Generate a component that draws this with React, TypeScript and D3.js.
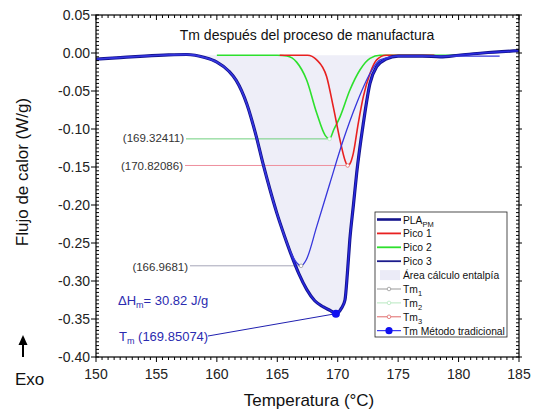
import React from 'react';
import * as d3 from 'd3';

// curves: [temperature °C, heat flow W/g]
const plaPM: [number, number][] = [
  [150, -0.008], [152, -0.006], [154, -0.004], [156, -0.0025], [157.5, -0.002],
  [159, -0.006], [160, -0.012], [161, -0.024], [161.6, -0.036], [162.5, -0.068],
  [163.2, -0.106], [163.84, -0.147], [164.4, -0.18], [164.95, -0.21], [165.6, -0.241],
  [166.19, -0.267], [166.8, -0.291], [167.43, -0.311], [168.1, -0.326], [168.81, -0.334],
  [169.4, -0.339], [169.85, -0.343], [170.3, -0.336], [170.6, -0.325], [170.8, -0.29],
  [171.0, -0.246], [171.3, -0.2], [171.57, -0.158], [172.12, -0.0925], [172.67, -0.04],
  [173.22, -0.018], [174, -0.008], [175, -0.004], [177, -0.004], [178.5, -0.005],
  [180, -0.003], [182, 0.0], [185, 0.003],
];
const pico1: [number, number][] = [
  [165.2, -0.003], [167.5, -0.003], [168.26, -0.009], [169.08, -0.031], [169.63, -0.0706],
  [170.19, -0.1145], [170.6, -0.141], [170.82, -0.148], [171.0, -0.146], [171.29, -0.132],
  [171.7, -0.0925], [172.12, -0.0575], [172.67, -0.027], [173.22, -0.009], [174, -0.003],
  [178, -0.003],
];
const pico2: [number, number][] = [
  [160, -0.003], [165, -0.003], [165.8, -0.004], [166.6, -0.012], [167.43, -0.0355],
  [168.26, -0.079], [168.95, -0.108], [169.32, -0.113], [169.7, -0.1], [170.19, -0.084],
  [171.0, -0.049], [171.85, -0.022], [172.67, -0.007], [173.5, -0.003], [180, -0.003],
];
const pico3: [number, number][] = [
  [150, -0.008], [152, -0.006], [154, -0.004], [156, -0.0025], [157.5, -0.002],
  [159, -0.006], [160, -0.012], [161, -0.024], [161.6, -0.036], [162.5, -0.068],
  [163.2, -0.106], [163.84, -0.147], [164.4, -0.18], [164.95, -0.21], [165.6, -0.241],
  [166.19, -0.265], [166.6, -0.276], [166.97, -0.28], [167.4, -0.272], [168.26, -0.2285],
  [169.36, -0.171], [170.46, -0.1145], [171.57, -0.066], [172.67, -0.027], [173.5, -0.009],
  [175, -0.004], [183.4, -0.004],
];
const peakTm1: [number, number] = [169.32411, -0.113];
const peakTm3: [number, number] = [170.82086, -0.148];
const peakPico3: [number, number] = [166.9681, -0.28];
const peakTrad: [number, number] = [169.85074, -0.343];
const areaRange = [156, 175.5];

const xTicks = [150, 155, 160, 165, 170, 175, 180, 185];
const yTicks = [0.05, 0, -0.05, -0.1, -0.15, -0.2, -0.25, -0.3, -0.35, -0.4];

const legendItems = [
  {name: 'PLA', sub: 'PM', kind: 'thick', color: '#14148c'},
  {name: 'Pico 1', sub: '', kind: 'line', color: '#e82020'},
  {name: 'Pico 2', sub: '', kind: 'line', color: '#2de02d'},
  {name: 'Pico 3', sub: '', kind: 'line', color: '#1c1c8c'},
  {name: 'Área cálculo entalpía', sub: '', kind: 'area', color: '#ebebf7'},
  {name: 'Tm', sub: '1', kind: 'marker', color: '#999999'},
  {name: 'Tm', sub: '2', kind: 'marker', color: '#b8e8c0'},
  {name: 'Tm', sub: '3', kind: 'marker', color: '#e06a6a'},
  {name: 'Tm Método tradicional', sub: '', kind: 'dot', color: '#1010f0'},
];

const font = '"Liberation Sans", Arial, sans-serif';

export default function App() {
  const left = 96, right = 519, top = 15, bottom = 357;
  const x = d3.scaleLinear().domain([150, 185]).range([left, right]);
  const y = d3.scaleLinear().domain([-0.4, 0.05]).range([bottom, top]);
  const line = d3
    .line<[number, number]>()
    .x((d) => x(d[0]))
    .y((d) => y(d[1]))
    .curve(d3.curveMonotoneX);

  // enthalpy area: between the curve and a straight baseline
  const inRange = plaPM.filter((d) => d[0] >= areaRange[0] && d[0] <= areaRange[1]);
  const area = d3
    .area<[number, number]>()
    .x((d) => x(d[0]))
    .y0(() => y(-0.003))
    .y1((d) => y(d[1]))
    .curve(d3.curveMonotoneX);

  const minorX = x.ticks(70);
  const minorY = y.ticks(90);

  const lg = {x0: 375, y0: 212, w: 132, h: 125, row: 13.9};

  return (
    <svg
      width={536}
      height={413}
      style={{position: 'absolute', left: 0, top: 0, background: '#fff'}}
      fontFamily={font}
    >
      <defs>
        <clipPath id="plot">
          <rect x={left} y={top} width={right - left} height={bottom - top} />
        </clipPath>
      </defs>

      <g clipPath="url(#plot)">
        <path d={area(inRange) || ''} fill="#eeeef8" />
        {/* leader lines */}
        <line x1={186} y1={y(peakTm1[1])} x2={x(peakTm1[0])} y2={y(peakTm1[1])} stroke="#6fcf7e" strokeWidth={1} />
        <line x1={185} y1={y(peakTm3[1])} x2={x(peakTm3[0])} y2={y(peakTm3[1])} stroke="#ee8f9e" strokeWidth={1} />
        <line x1={190} y1={y(peakPico3[1])} x2={x(peakPico3[0])} y2={y(peakPico3[1])} stroke="#a6a6b8" strokeWidth={1} />
        <line x1={208} y1={336} x2={x(peakTrad[0])} y2={y(peakTrad[1])} stroke="#2020b0" strokeWidth={1} />

        <path d={line(pico2) || ''} fill="none" stroke="#2de02d" strokeWidth={1.6} />
        <path d={line(pico1) || ''} fill="none" stroke="#e82020" strokeWidth={1.6} />
        <path d={line(plaPM) || ''} fill="none" stroke="#14148c" strokeWidth={3.2} />
        <path d={line(plaPM) || ''} fill="none" stroke="#2828e0" strokeWidth={1.4} />
        <path d={line(pico3) || ''} fill="none" stroke="#3636dc" strokeWidth={1.3} />

        <circle cx={x(peakTm1[0])} cy={y(peakTm1[1])} r={1.8} fill="#fff" stroke="#b8e8c0" strokeWidth={0.8} />
        <circle cx={x(peakTm3[0])} cy={y(peakTm3[1])} r={1.8} fill="#fff" stroke="#e06a6a" strokeWidth={0.8} />
        <circle cx={x(peakPico3[0])} cy={y(peakPico3[1])} r={1.8} fill="#fff" stroke="#999" strokeWidth={0.8} />
        <circle cx={x(peakTrad[0])} cy={y(peakTrad[1])} r={4} fill="#1010f0" />
      </g>

      {/* frame */}
      <rect x={left} y={top} width={right - left} height={bottom - top} fill="none" stroke="#000" strokeWidth={1.2} />

      {/* x ticks */}
      {minorX.map((t) => {
        const major = xTicks.includes(t);
        return (
          <g key={'x' + t}>
            <line x1={x(t)} x2={x(t)} y1={bottom} y2={bottom + (major ? 5 : 3)} stroke="#000" />
            <line x1={x(t)} x2={x(t)} y1={top} y2={top + (major ? 5 : 3)} stroke="#000" />
          </g>
        );
      })}
      {xTicks.map((t) => (
        <text key={'xl' + t} x={x(t)} y={379} textAnchor="middle" fontSize={14} fill="#222">
          {t}
        </text>
      ))}

      {/* y ticks */}
      {minorY.map((t) => {
        const major = yTicks.some((v) => Math.abs(v - t) < 1e-9);
        return (
          <g key={'y' + t}>
            <line x1={left - (major ? 5 : 0)} x2={left + 3} y1={y(t)} y2={y(t)} stroke="#000" />
            <line x1={right - 3} x2={right + (major ? 3 : 0)} y1={y(t)} y2={y(t)} stroke="#000" />
          </g>
        );
      })}
      {yTicks.map((t) => (
        <text key={'yl' + t} x={90} y={y(t) + 5} textAnchor="end" fontSize={14} fill="#222">
          {d3.format('.2f')(t).replace('−', '-')}
        </text>
      ))}

      {/* axis titles */}
      <text x={309} y={406} textAnchor="middle" fontSize={17} fill="#111">
        Temperatura (°C)
      </text>
      <text transform="translate(28,172) rotate(-90)" textAnchor="middle" fontSize={17} fill="#111">
        Flujo de calor (W/g)
      </text>

      {/* Exo arrow */}
      <line x1={23} y1={357} x2={23} y2={343} stroke="#000" strokeWidth={2} />
      <path d="M18.5,345 L23,335 L27.5,345 Z" fill="#000" />
      <text x={15} y={385} fontSize={17} fill="#111">Exo</text>

      {/* title */}
      <text x={307} y={40} textAnchor="middle" fontSize={14} fill="#111">
        Tm después del proceso de manufactura
      </text>

      {/* annotations */}
      <text x={184} y={142} textAnchor="end" fontSize={11.5} fill="#333">(169.32411)</text>
      <text x={183} y={170} textAnchor="end" fontSize={11.5} fill="#333">(170.82086)</text>
      <text x={188} y={271} textAnchor="end" fontSize={11.5} fill="#333">(166.9681)</text>
      <text x={118} y={305} fontSize={13} fill="#2b2bb0">
        ΔH<tspan fontSize={9} dy={3}>m</tspan>
        <tspan dy={-3}>= 30.82 J/g</tspan>
      </text>
      <text x={119} y={341} fontSize={13} fill="#2b2bb0">
        T<tspan fontSize={9} dy={3}>m</tspan>
        <tspan dy={-3}> (169.85074)</tspan>
      </text>

      {/* legend */}
      <rect x={lg.x0} y={lg.y0} width={lg.w} height={lg.h} fill="#fff" stroke="#222" strokeWidth={0.8} />
      {legendItems.map((it, i) => {
        const cy = lg.y0 + 7.5 + i * lg.row;
        const x1 = lg.x0 + 2, x2 = lg.x0 + 26;
        return (
          <g key={it.name + it.sub}>
            {it.kind === 'area' ? (
              <rect x={x1 + 3} y={cy - 5} width={20} height={10} fill={it.color} />
            ) : (
              <line x1={x1} x2={x2} y1={cy} y2={cy} stroke={it.color} strokeWidth={it.kind === 'thick' ? 2.6 : it.kind === 'line' ? 1.8 : 1} />
            )}
            {it.kind === 'marker' && <circle cx={(x1 + x2) / 2} cy={cy} r={1.8} fill="#fff" stroke={it.color} strokeWidth={0.8} />}
            {it.kind === 'dot' && <circle cx={(x1 + x2) / 2} cy={cy} r={3.6} fill={it.color} />}
            <text x={lg.x0 + 28} y={cy + 4} fontSize={10.3} fill="#111">
              {it.name}
              {it.sub && (
                <tspan fontSize={7.5} dy={3}>
                  {it.sub}
                </tspan>
              )}
            </text>
          </g>
        );
      })}
    </svg>
  );
}
